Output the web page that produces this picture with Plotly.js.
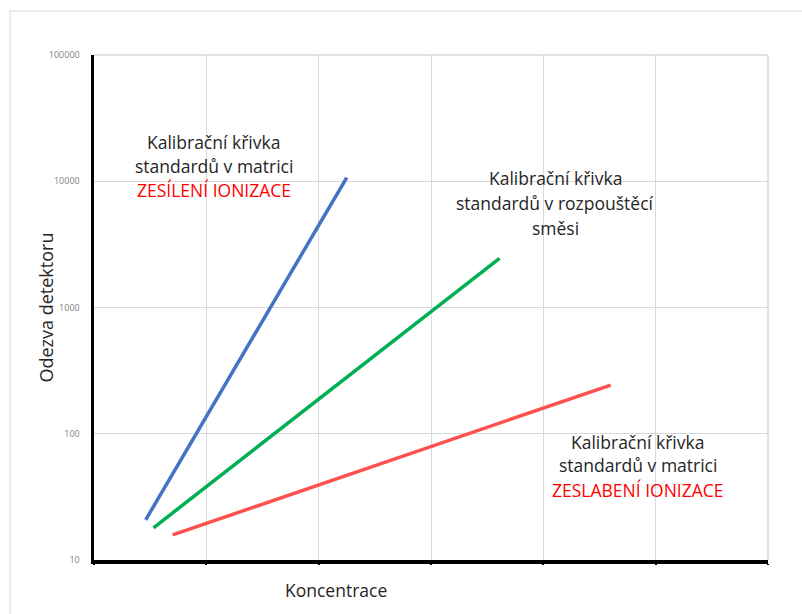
<!DOCTYPE html>
<html>
<head>
<meta charset="utf-8">
<script src="https://cdn.plot.ly/plotly-3.0.1.min.js"></script>
<style>
html,body{margin:0;padding:0;background:#fff;}
#chart{width:802px;height:614px;}
</style>
</head>
<body>
<div id="chart"></div>
<script>
// Data
const blueX = [0.46, 2.25];
const blueY = [20.8, 10700];
const greenX = [0.53, 3.61];
const greenY = [18.0, 2450];
const redX = [0.70, 4.60];
const redY = [15.8, 243];

const yTickVals = [10, 100, 1000, 10000, 100000];
const yTickText = ['10', '100', '1000', '10000', '100000'];
const xTickVals = [0, 1, 2, 3, 4, 5, 6];

const labelBlue = ['Kalibrační křivka', 'standardů v matrici', 'ZESÍLENÍ IONIZACE'];
const labelGreen = ['Kalibrační křivka', 'standardů v rozpouštěcí', 'směsi'];
const labelRed = ['Kalibrační křivka', 'standardů v matrici', 'ZESLABENÍ IONIZACE'];
const xTitle = 'Koncentrace';
const yTitle = 'Odezva detektoru';

const FONT = '"Open Sans", "Noto Sans", sans-serif';
const TXT = '#262626';
const GRID = '#d9d9d9';

const traces = [
  {x: blueX, y: blueY, mode: 'lines', line: {color: '#4472C4', width: 3.5}, hoverinfo: 'skip'},
  {x: greenX, y: greenY, mode: 'lines', line: {color: '#00B050', width: 3.5}, hoverinfo: 'skip'},
  {x: redX, y: redY, mode: 'lines', line: {color: '#FF5050', width: 3.5}, hoverinfo: 'skip'}
];

function block(lines, cx, ys, lastRed) {
  return lines.map((t, i) => ({
    xref: 'paper', yref: 'paper', x: cx, y: ys[i],
    xanchor: 'center', yanchor: 'middle', showarrow: false,
    text: t,
    font: {family: FONT, size: 17.5, color: (lastRed && i === 2) ? '#FF0000' : TXT}
  }));
}

const annotations = [].concat(
  block(labelBlue, 0.178, [0.8277, 0.7802, 0.7327], true),
  block(labelGreen, 0.684, [0.7564, 0.7069, 0.6574], false),
  block(labelRed, 0.807, [0.2337, 0.1881, 0.1386], true),
  [
    {xref: 'paper', yref: 'paper', x: -0.0727, y: 0.5, xanchor: 'center', yanchor: 'middle',
     showarrow: false, textangle: -90, text: yTitle, font: {family: FONT, size: 18, color: TXT}},
    {xref: 'paper', yref: 'paper', x: 0.3597, y: -0.0594, xanchor: 'center', yanchor: 'middle',
     showarrow: false, text: xTitle, font: {family: FONT, size: 17.5, color: TXT}}
  ]
);

const whiteBox = (x0, x1, y0, y1) => ({
  type: 'rect', xref: 'paper', yref: 'paper', x0, x1, y0, y1,
  fillcolor: '#ffffff', line: {width: 0}, layer: 'between'
});

const shapes = [
  // top and right grid edges
  {type: 'line', xref: 'paper', yref: 'paper', x0: 0, x1: 1, y0: 1, y1: 1,
   line: {color: GRID, width: 1.5}, layer: 'below'},
  {type: 'line', xref: 'paper', yref: 'paper', x0: 1, x1: 1, y0: 0, y1: 1,
   line: {color: GRID, width: 1.5}, layer: 'below'},
  whiteBox(0.0282, 0.3353, 0.6832, 0.8634),
  whiteBox(0.5163, 0.8546, 0.6139, 0.7921),
  whiteBox(0.6588, 0.9585, 0.0832, 0.2752),
  // outer frame (top and left edges visible)
  {type: 'line', xref: 'paper', yref: 'paper', x0: -0.1246, x1: 1.06, y0: 1.0871, y1: 1.0871,
   line: {color: GRID, width: 1}},
  {type: 'line', xref: 'paper', yref: 'paper', x0: -0.1246, x1: -0.1246, y0: 1.0871, y1: -0.12,
   line: {color: GRID, width: 1}}
];

const layout = {
  width: 802, height: 614,
  margin: {l: 94, r: 34, t: 55, b: 54},
  paper_bgcolor: '#ffffff', plot_bgcolor: '#ffffff',
  showlegend: false,
  xaxis: {
    range: [0, 6], tickmode: 'array', tickvals: xTickVals, showticklabels: false,
    showgrid: true, gridcolor: GRID, gridwidth: 1, zeroline: false,
    showline: true, linecolor: '#000000', linewidth: 3.5,
    ticks: 'outside', ticklen: 1.5, tickwidth: 2, tickcolor: '#000000',
    fixedrange: true
  },
  yaxis: {
    type: 'log', range: [1, 5], tickmode: 'array', tickvals: yTickVals, ticktext: yTickText,
    showgrid: true, gridcolor: GRID, gridwidth: 1, zeroline: false,
    showline: true, linecolor: '#000000', linewidth: 3.5,
    ticks: '', ticklabelstandoff: 9,
    tickfont: {family: FONT, size: 9, color: '#7f7f7f'},
    fixedrange: true
  },
  annotations: annotations,
  shapes: shapes
};

Plotly.newPlot('chart', traces, layout, {displayModeBar: false, staticPlot: true});
</script>
</body>
</html>
